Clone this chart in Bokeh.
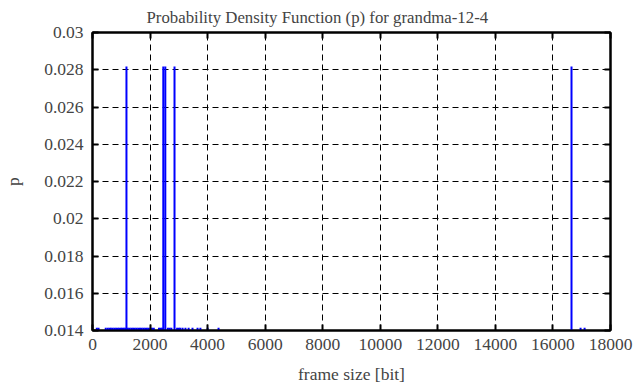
from bokeh.plotting import figure
from bokeh.models import Range1d, FixedTicker, LinearAxis
from bokeh.embed import file_html
from bokeh.resources import INLINE

# Data: frame sizes [bit] and their probability
frame_sizes = [150, 210, 460, 530, 590,
               640, 700, 760, 820, 880, 930, 990, 1040, 1090, 1140,
               1180,
               1230, 1290, 1350, 1410, 1470, 1530, 1590, 1650, 1710, 1770, 1830, 1890, 1950, 2010,
               2070, 2130, 2310, 2370, 2420,
               2460, 2530,
               2620, 2680, 2740,
               2850,
               2940, 3000, 3050, 3130, 3230, 3340, 3475, 3650, 3750, 4000, 4380,
               16645,
               16960, 17100]
probabilities = [0.01415, 0.01415, 0.01415, 0.01415, 0.01415,
                 0.01415, 0.01415, 0.01415, 0.01415, 0.01415, 0.01415, 0.01415, 0.01415, 0.01415, 0.01415,
                 0.02817,
                 0.01415, 0.01415, 0.01415, 0.01415, 0.01415, 0.01415, 0.01415, 0.01415, 0.01415, 0.01415, 0.01415, 0.01415, 0.01415, 0.01415,
                 0.01415, 0.01415, 0.01415, 0.01415, 0.01415,
                 0.02817, 0.02817,
                 0.01415, 0.01415, 0.01415,
                 0.02817,
                 0.01415, 0.01415, 0.01415, 0.01415, 0.01415, 0.01415, 0.01415, 0.01415, 0.01415, 0.01415, 0.01415,
                 0.02817,
                 0.01415, 0.01415]

x_ticks = [0, 2000, 4000, 6000, 8000, 10000, 12000, 14000, 16000, 18000]
y_ticks = [0.014, 0.016, 0.018, 0.02, 0.022, 0.024, 0.026, 0.028, 0.03]
y_tick_labels = ["0.014", "0.016", "0.018", "0.02", "0.022", "0.024", "0.026", "0.028", "0.03"]

FONT = "Liberation Serif"
FS = "17.5px"

p = figure(width=636, height=387, output_backend="svg", toolbar_location=None,
           x_range=Range1d(0, 18000), y_range=Range1d(0.014, 0.03),
           min_border_left=92, min_border_right=26, min_border_top=32, min_border_bottom=57)

p.title.text = "Probability Density Function (p) for grandma-12-4"
p.title.align = "left"
p.title.offset = 54
p.title.standoff = 8
p.title.vertical_align = "top"
p.title.text_line_height = 1.0
p.title.text_font = FONT
p.title.text_font_size = "16.8px"
p.title.text_font_style = "normal"

p.segment(x0=frame_sizes, y0=[0.0] * len(frame_sizes), x1=frame_sizes, y1=probabilities,
          line_color="#0000ff", line_width=2)

p.outline_line_color = "black"
p.outline_line_width = 2
p.outline_line_alpha = 1.0

for ax in (p.xaxis[0], p.yaxis[0]):
    ax.major_label_text_font = FONT
    ax.major_label_text_font_size = FS
    ax.axis_label_text_font = FONT
    ax.axis_label_text_font_size = FS
    ax.axis_label_text_font_style = "normal"
    ax.major_tick_in = 6
    ax.major_tick_out = 0
    ax.major_tick_line_width = 2
    ax.minor_tick_line_color = None
    ax.axis_line_width = 2

p.xaxis[0].ticker = FixedTicker(ticks=x_ticks)
p.yaxis[0].ticker = FixedTicker(ticks=y_ticks)
p.yaxis[0].major_label_overrides = dict(zip(y_ticks, y_tick_labels))
p.xaxis[0].axis_label = "frame size [bit]"
p.yaxis[0].axis_label = "p"
p.xaxis[0].major_label_standoff = 8
p.yaxis[0].major_label_standoff = 9
p.xaxis[0].axis_label_standoff = 11
p.yaxis[0].axis_label_standoff = 18

# mirrored ticks
top = LinearAxis(ticker=FixedTicker(ticks=x_ticks), major_label_text_color=None,
                 major_tick_in=6, major_tick_out=0, major_tick_line_width=2,
                 minor_tick_line_color=None, axis_line_width=2, major_label_text_font_size="1px",
                 major_label_standoff=0)
right = LinearAxis(ticker=FixedTicker(ticks=y_ticks), major_label_text_color=None,
                   major_tick_in=6, major_tick_out=0, major_tick_line_width=2,
                   minor_tick_line_color=None, axis_line_width=2, major_label_text_font_size="1px",
                   major_label_standoff=0)
p.add_layout(top, "above")
p.add_layout(right, "right")

for g in (p.xgrid[0], p.ygrid[0]):
    g.grid_line_color = "black"
    g.grid_line_dash = "6 4"
    g.grid_line_width = 1
p.xgrid[0].ticker = FixedTicker(ticks=x_ticks)
p.ygrid[0].ticker = FixedTicker(ticks=y_ticks)

open("out.html", "w").write(file_html(p, INLINE))
